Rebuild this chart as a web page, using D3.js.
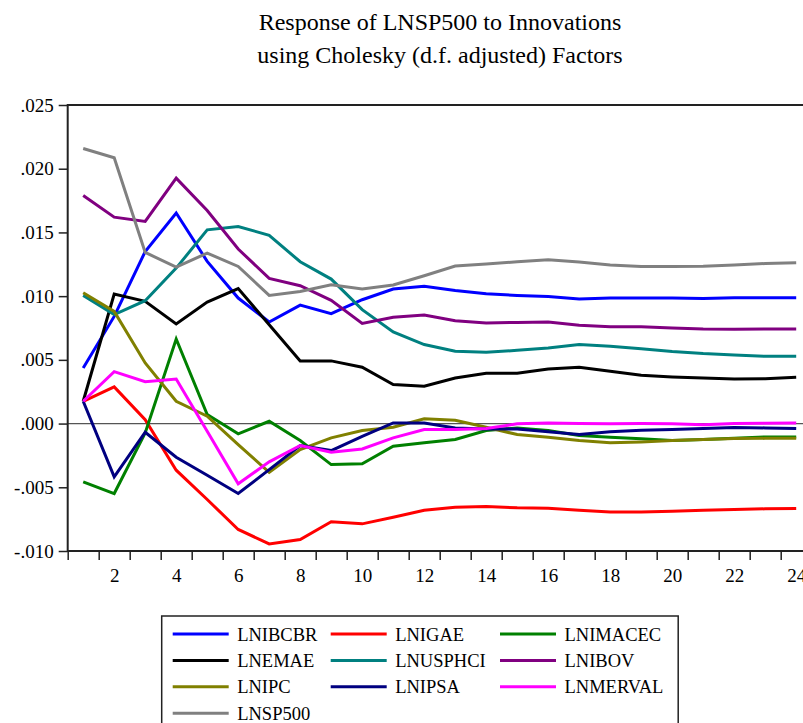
<!DOCTYPE html>
<html><head><meta charset="utf-8">
<script src="https://cdn.jsdelivr.net/npm/d3@7"></script>
<style>body{margin:0;background:#fff;}</style>
</head><body>
<svg id="chart" width="803" height="723"></svg>
<script>
const periods = d3.range(1, 25);
const seriesNames = ["LNIBCBR","LNIGAE","LNIMACEC","LNEMAE","LNUSPHCI","LNIBOV","LNIPC","LNIPSA","LNMERVAL","LNSP500"];
const seriesColors = ["#0000ff","#ff0000","#008000","#000000","#008080","#800080","#808000","#000080","#ff00ff","#808080"];
const LNIBCBR = [0.00436,0.00841,0.0135,0.01652,0.01273,0.00985,0.00797,0.0093,0.00862,0.00972,0.01056,0.01077,0.01045,0.01019,0.01006,0.00998,0.00977,0.00985,0.00985,0.00985,0.00982,0.00988,0.00988,0.00988];
const LNIGAE = [0.00175,0.00288,0.00031,-0.00366,-0.00596,-0.00831,-0.00944,-0.0091,-0.00771,-0.00787,-0.00735,-0.0068,-0.00656,-0.00651,-0.00661,-0.00664,-0.0068,-0.00693,-0.00693,-0.00688,-0.0068,-0.00675,-0.00669,-0.00667];
const LNIMACEC = [-0.00457,-0.00549,-0.00073,0.00664,0.00071,-0.00081,0.00018,-0.00133,-0.00322,-0.00316,-0.00178,-0.00151,-0.00125,-0.00055,-0.00034,-0.00055,-0.00094,-0.00107,-0.0012,-0.00133,-0.00125,-0.00115,-0.00105,-0.00105];
const LNEMAE = [0.00175,0.01017,0.00959,0.00782,0.00954,0.01059,0.00776,0.00492,0.00492,0.00442,0.00306,0.00293,0.00358,0.00395,0.00395,0.00429,0.00442,0.0041,0.00379,0.00366,0.00358,0.0035,0.00352,0.00363];
const LNUSPHCI = [0.01006,0.00855,0.00964,0.0122,0.0152,0.01547,0.01477,0.0127,0.01134,0.00894,0.00719,0.0062,0.00567,0.00559,0.00575,0.00593,0.0062,0.00606,0.00588,0.00565,0.00549,0.00539,0.00528,0.00528];
const LNIBOV = [0.0179,0.0162,0.01586,0.01926,0.01672,0.0137,0.01139,0.01082,0.00967,0.00786,0.00834,0.00852,0.00807,0.0079,0.00794,0.00797,0.00771,0.0076,0.0076,0.0075,0.00742,0.0074,0.00742,0.00742];
const LNIPC = [0.01027,0.0088,0.00476,0.00175,0.00058,-0.00165,-0.00382,-0.00204,-0.00112,-0.00055,-0.00029,0.00037,0.00026,-0.00029,-0.00086,-0.00107,-0.00133,-0.00151,-0.00144,-0.00133,-0.00125,-0.00118,-0.00116,-0.00116];
const LNIPSA = [0.00175,-0.00418,-0.00068,-0.00264,-0.00405,-0.00549,-0.00361,-0.00172,-0.00212,-0.001,0.00005,0.00005,-0.00034,-0.00042,-0.00042,-0.00065,-0.00086,-0.00065,-0.00052,-0.00047,-0.00039,-0.00031,-0.00034,-0.00039];
const LNMERVAL = [0.00175,0.00408,0.00329,0.0035,-0.0006,-0.00473,-0.003,-0.00172,-0.00225,-0.00199,-0.00112,-0.00047,-0.00047,-0.00039,-0.00002,0.00005,0.0,-0.00001,0.0,-0.00001,-0.0001,0.0,0.00003,0.00005];
const LNSP500 = [0.02159,0.02086,0.01343,0.01228,0.01338,0.01233,0.01006,0.01037,0.0109,0.01056,0.01087,0.0116,0.01236,0.01252,0.0127,0.01286,0.01268,0.01244,0.01233,0.01233,0.01235,0.01244,0.01256,0.01262];
const yTicks = [-0.010,-0.005,0.000,0.005,0.010,0.015,0.020,0.025];
const xLabelTicks = [2,4,6,8,10,12,14,16,18,20,22,24];
const titleLines = ["Response of LNSP500 to Innovations","using Cholesky (d.f. adjusted) Factors"];

const seriesValues = [LNIBCBR,LNIGAE,LNIMACEC,LNEMAE,LNUSPHCI,LNIBOV,LNIPC,LNIPSA,LNMERVAL,LNSP500];
const series = seriesNames.map((n,i)=>({name:n,color:seriesColors[i],values:seriesValues[i]}));

const FONT = '"Liberation Serif"';
const svg = d3.select("#chart");
const L = 67.7, R = 811.7, T = 105, B = 551;
const x = d3.scaleLinear().domain([0.5, 24.5]).range([L, R]);
const y = d3.scaleLinear().domain([-0.010, 0.025]).range([B, T]);

// title
svg.selectAll("text.title").data(titleLines).enter().append("text")
  .attr("x", 440).attr("y", (d,i)=>30+i*33)
  .attr("text-anchor","middle").style("font-family",FONT).style("font-size","24px").attr("fill","#000").text(d=>d);

// zero line
svg.append("line").attr("x1",L).attr("x2",R).attr("y1",y(0)).attr("y2",y(0))
  .attr("stroke","#555").attr("stroke-width",1.2);

// lines
const line = d3.line().x((d,i)=>x(periods[i])).y(d=>y(d));
svg.append("g").selectAll("path").data(series).enter().append("path")
  .attr("d", d=>line(d.values)).attr("fill","none")
  .attr("stroke", d=>d.color).attr("stroke-width",3).attr("stroke-linejoin","miter");

// frame
svg.append("rect").attr("x",L).attr("y",T).attr("width",R-L).attr("height",B-T)
  .attr("fill","none").attr("stroke","#222").attr("stroke-width",2);

// y axis
const yAxis = d3.axisLeft(y).tickValues(yTicks).tickSize(9).tickPadding(5)
  .tickFormat(d=>{const s = d3.format(".3f")(Math.abs(d)).replace(/^0/,""); return (d<-1e-9?"-":"")+s;});
const gy = svg.append("g").attr("transform",`translate(${L},0)`).call(yAxis).attr("font-family",null).attr("font-size",null);
gy.select(".domain").remove();
gy.selectAll("line").attr("stroke","#222").attr("stroke-width",1.5);
gy.selectAll("text").style("font-size","19px").style("font-family",FONT).attr("fill","#000");

// x axis ticks at period boundaries
const xTickAxis = d3.axisBottom(x).tickValues(d3.range(0.5,25,1)).tickSize(9).tickFormat("");
const gx = svg.append("g").attr("transform",`translate(0,${B})`).call(xTickAxis);
gx.select(".domain").remove();
gx.selectAll("line").attr("stroke","#222").attr("stroke-width",1.5);
const xLabAxis = d3.axisBottom(x).tickValues(xLabelTicks).tickSize(0).tickPadding(18).tickFormat(d3.format("d"));
const gxl = svg.append("g").attr("transform",`translate(0,${B})`).call(xLabAxis).attr("font-family",null).attr("font-size",null);
gxl.select(".domain").remove();
gxl.selectAll("text").style("font-size","19px").style("font-family",FONT).attr("fill","#000");

// legend
const lg = svg.append("g");
lg.append("rect").attr("x",161.7).attr("y",616).attr("width",516.5).attr("height",130)
  .attr("fill","#fff").attr("stroke","#222").attr("stroke-width",1.5);
const colX = [172.7, 330.7, 500];
const items = lg.selectAll("g.item").data(series).enter().append("g")
  .attr("transform",(d,i)=>`translate(${colX[i%3]},${634+Math.floor(i/3)*26.4})`);
items.append("line").attr("x1",0).attr("x2",56).attr("y1",0).attr("y2",0)
  .attr("stroke",d=>d.color).attr("stroke-width",3);
items.append("text").attr("x",64.5).attr("y",6.5).style("font-family",FONT).style("font-size","18.5px").attr("fill","#000").text(d=>d.name);
</script>
</body></html>
